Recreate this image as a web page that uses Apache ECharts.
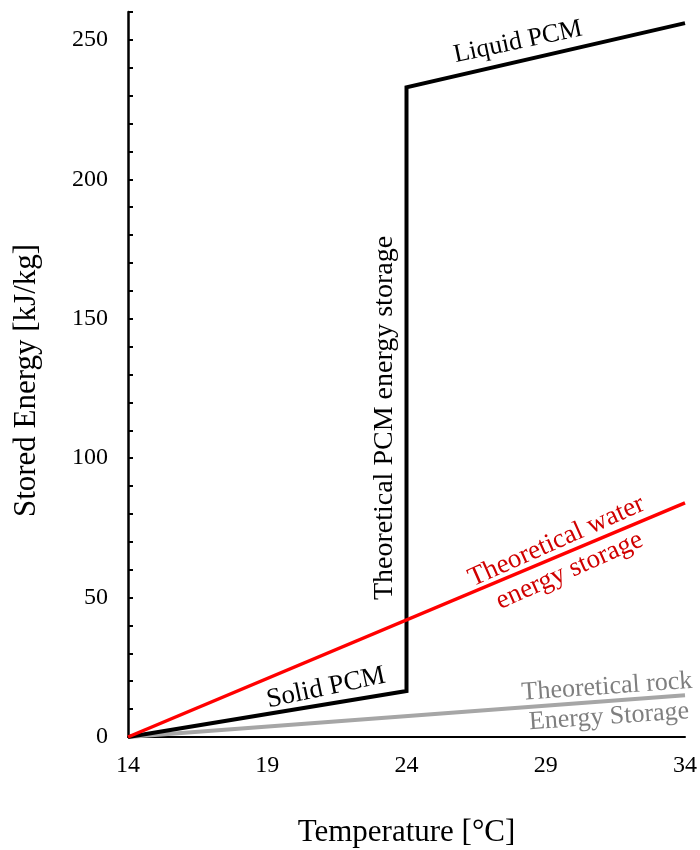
<!DOCTYPE html>
<html>
<head>
<meta charset="utf-8">
<script src="https://cdn.jsdelivr.net/npm/echarts@6/dist/echarts.min.js"></script>
<style>html,body{margin:0;padding:0;background:#fff}#c{width:700px;height:850px}</style>
</head>
<body>
<div id="c"></div>
<script>
// Data
var pcmTemp = [14, 24, 24, 34];
var pcmEnergy = [0, 16.5, 233, 256];
var waterTemp = [14, 34];
var waterEnergy = [0, 84];
var rockTemp = [14, 34];
var rockEnergy = [0, 15];
var xTickLabels = [14, 19, 24, 29, 34];
var yTickLabels = [0, 50, 100, 150, 200, 250];
var yMinorTicks = [0,10,20,30,40,50,60,70,80,90,100,110,120,130,140,150,160,170,180,190,200,210,220,230,240,250,260];

function pairs(xs, ys){ return xs.map(function(x,i){ return [x, ys[i]]; }); }

var FONT = '"Liberation Serif", "Times New Roman", serif';
var chart = echarts.init(document.getElementById('c'));
chart.setOption({
  animation: false,
  backgroundColor: '#fff',
  grid: { left: 128, right: 15, top: 12, bottom: 113, containLabel: false, outerBoundsMode: 'none' },
  xAxis: {
    type: 'value', min: 14, max: 34,
    name: 'Temperature [°C]', nameLocation: 'middle', nameGap: 80,
    nameTextStyle: { fontFamily: FONT, fontSize: 31, color: '#000' },
    axisLine: { show: true, lineStyle: { color: '#000', width: 2 } },
    axisTick: { show: false },
    splitLine: { show: false },
    axisLabel: { customValues: xTickLabels, fontFamily: FONT, fontSize: 24, color: '#000', margin: 17 }
  },
  yAxis: {
    type: 'value', min: 0, max: 260,
    name: 'Stored Energy [kJ/kg]', nameLocation: 'middle', nameGap: 86,
    nameTextStyle: { fontFamily: FONT, fontSize: 31, color: '#000', padding: [0, 12, 0, 0] },
    axisLine: { show: true, lineStyle: { color: '#000', width: 2.5 } },
    axisTick: { show: true, inside: true, length: 5, customValues: yMinorTicks, lineStyle: { color: '#000', width: 2 } },
    splitLine: { show: false },
    axisLabel: { customValues: yTickLabels, fontFamily: FONT, fontSize: 24, color: '#000', margin: 20 }
  },
  series: [
    { type: 'line', data: pairs(rockTemp, rockEnergy), showSymbol: false, lineStyle: { color: '#a6a6a6', width: 4 }, z: 2 },
    { type: 'line', data: pairs(pcmTemp, pcmEnergy), showSymbol: false, lineStyle: { color: '#000', width: 4, join: 'miter' }, z: 3 },
    { type: 'line', data: pairs(waterTemp, waterEnergy), showSymbol: false, lineStyle: { color: '#ff0000', width: 3.5 }, z: 4 }
  ],
  graphic: [
    { type: 'text', x: 518, y: 42, rotation: 12 * Math.PI / 180,
      style: { text: 'Liquid PCM', font: '26px ' + FONT, fill: '#000', align: 'center', verticalAlign: 'middle' } },
    { type: 'text', x: 326, y: 688, rotation: 12 * Math.PI / 180,
      style: { text: 'Solid PCM', font: '27px ' + FONT, fill: '#000', align: 'center', verticalAlign: 'middle' } },
    { type: 'text', x: 385, y: 418, rotation: Math.PI / 2,
      style: { text: 'Theoretical PCM energy storage', font: '28px ' + FONT, fill: '#000', align: 'center', verticalAlign: 'middle' } },
    { type: 'text', x: 563, y: 556, rotation: 24 * Math.PI / 180,
      style: { text: 'Theoretical water\nenergy storage', font: '27px ' + FONT, lineHeight: 32, fill: '#d00000', align: 'center', verticalAlign: 'middle' } },
    { type: 'text', x: 608, y: 702, rotation: 4 * Math.PI / 180,
      style: { text: 'Theoretical rock\nEnergy Storage', font: '26px ' + FONT, lineHeight: 30, fill: '#7f7f7f', align: 'center', verticalAlign: 'middle' } }
  ]
});
</script>
</body>
</html>
